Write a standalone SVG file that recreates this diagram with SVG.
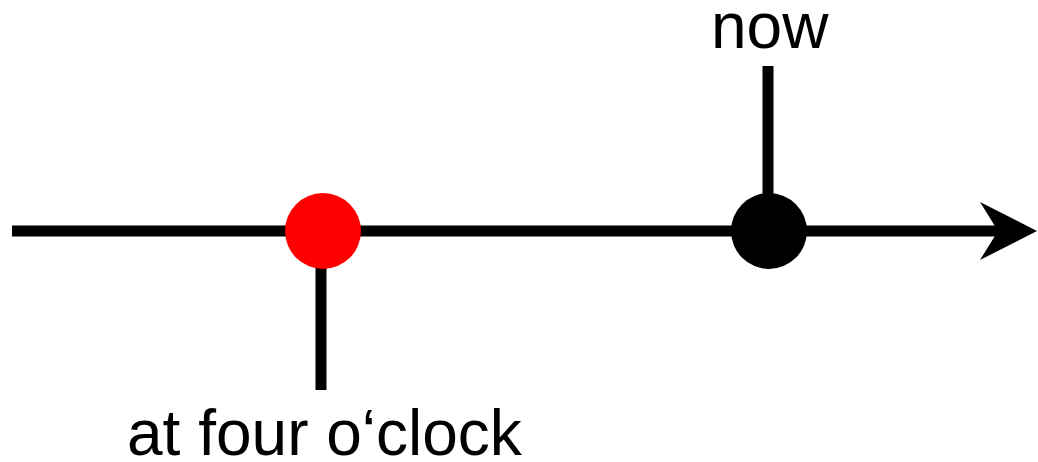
<svg xmlns="http://www.w3.org/2000/svg" width="1038" height="462" viewBox="0 0 1038 462">
<style>
.ln{stroke:#000;stroke-width:11;fill:none}
.lbl{font-family:"Liberation Sans",Arial,sans-serif;font-size:64px;fill:#000}
</style>
<rect width="1038" height="462" fill="#fff"/>
<g id="connectors">
<line class="ln" x1="12" y1="231" x2="1000" y2="231"/>
<path d="M1037,231 L980,202 L998,231 L980,260 Z" fill="#000"/>
<line class="ln" x1="321" y1="231" x2="321" y2="390"/>
<line class="ln" x1="768" y1="66" x2="768" y2="231"/>
</g>
<g id="node-four">
<circle cx="323" cy="231" r="38" fill="#f00"/>
<text class="lbl" x="127" y="455">at four o‘clock</text>
</g>
<g id="node-now">
<circle cx="769" cy="231" r="38" fill="#000"/>
<text class="lbl" x="711" y="48">now</text>
</g>
</svg>
